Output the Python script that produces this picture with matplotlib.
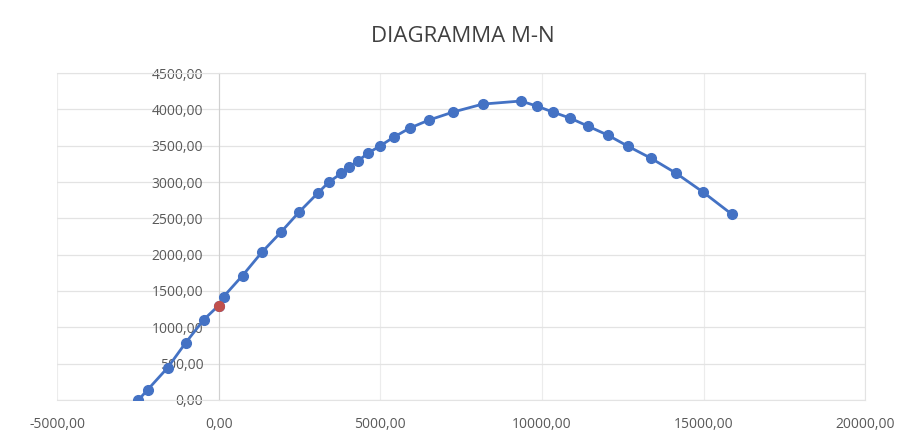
import matplotlib.pyplot as plt
from matplotlib.ticker import FuncFormatter

# dominio M-N
N = [-2480, -2200, -1580, -1020, -460, 0, 155, 740, 1330, 1920, 2480, 3060, 3410,
     3800, 4030, 4300, 4620, 4980, 5420, 5910, 6500, 7250, 8170, 9350, 9840,
     10340, 10870, 11420, 12040, 12660, 13370, 14150, 14990, 15880]
M = [0, 138, 442, 787, 1105, 1300, 1423, 1713, 2030, 2307, 2583, 2845, 3000,
     3122, 3204, 3287, 3398, 3494, 3619, 3743, 3853, 3964, 4074, 4116, 4047,
     3964, 3881, 3771, 3646, 3494, 3329, 3122, 2860, 2555]
N_red = [0]
M_red = [1300]

plt.rcParams['font.family'] = ['Open Sans', 'DejaVu Sans']

fig = plt.figure(figsize=(9.05, 4.38), dpi=100)
ax = fig.add_axes([0.063, 0.087, 0.893, 0.746])

ax.plot(N, M, color='#4472C4', lw=2, marker='o', ms=7, zorder=3)
ax.plot(N_red, M_red, 'o', color='#C0504D', ms=7, zorder=4)

ax.set_xlim(-5000, 20000)
ax.set_ylim(0, 4500)
ax.set_xticks(range(-5000, 20001, 5000))
ax.set_yticks(range(0, 4501, 500))

fmt = FuncFormatter(lambda v, p: f'{v:.2f}'.replace('.', ','))
ax.xaxis.set_major_formatter(fmt)
ax.yaxis.set_major_formatter(fmt)

ax.grid(True, axis='y', color='#e3e3e3', lw=0.9)
ax.grid(True, axis='x', color='#ececec', lw=0.8)
ax.set_axisbelow(True)
for s in ['top', 'right', 'bottom']:
    ax.spines[s].set_color('#e3e3e3')
ax.spines['left'].set_position(('data', 0))
ax.spines['left'].set_color('#d0d0d0')
ax.tick_params(axis='both', length=0, labelsize=10, colors='#595959')
ax.tick_params(axis='x', pad=12)
ax.tick_params(axis='y', pad=11)

fig.suptitle('DIAGRAMMA M-N', x=0.511, y=0.94, fontsize=16, color='#404040')

fig.savefig('out.png')
